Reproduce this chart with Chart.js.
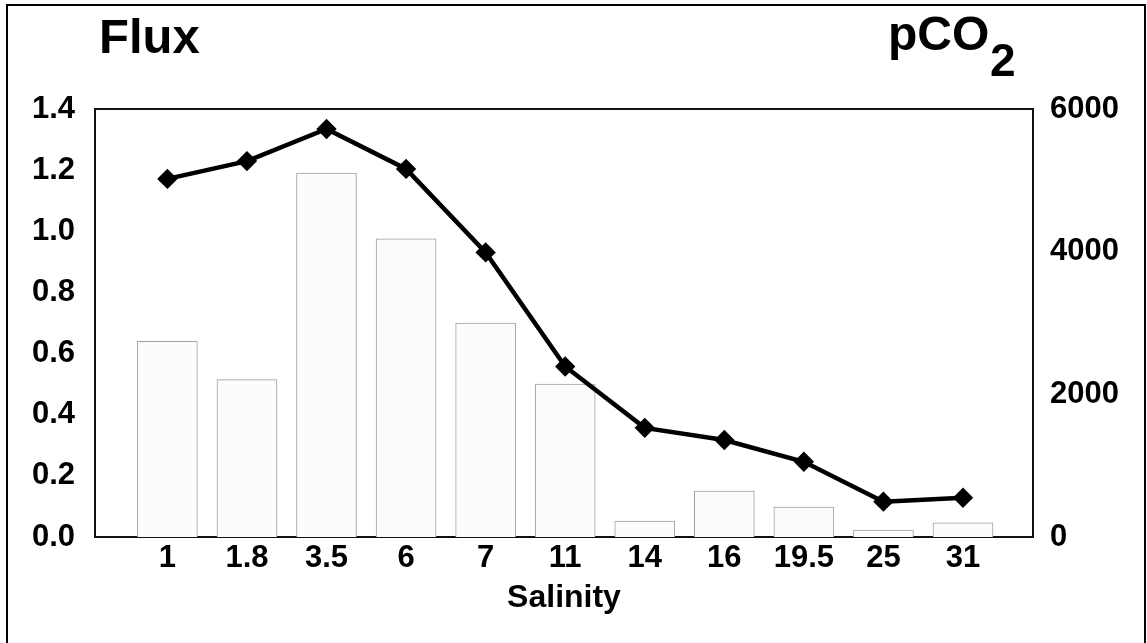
<!DOCTYPE html>
<html>
<head>
<meta charset="utf-8">
<script src="https://cdn.jsdelivr.net/npm/chart.js@4"></script>
<style>
html,body{margin:0;padding:0;background:#fff;}
#wrap{position:relative;width:1147px;height:643px;}
</style>
</head>
<body>
<div id="wrap"><canvas id="c" width="1147" height="643"></canvas></div>
<script>
const salinity = ['1','1.8','3.5','6','7','11','14','16','19.5','25','31'];
const flux = [0.64, 0.515, 1.19, 0.975, 0.70, 0.50, 0.052, 0.15, 0.098, 0.023, 0.046];
const pco2 = [5020, 5270, 5720, 5160, 3990, 2390, 1530, 1360, 1055, 495, 550];
const fluxTicks = [0, 0.2, 0.4, 0.6, 0.8, 1.0, 1.2, 1.4];
const pco2Ticks = [0, 2000, 4000, 6000];

const FONT = '"Liberation Sans", Arial, sans-serif';

const framePlugin = {
  id: 'frame',
  beforeDatasetsDraw(chart) {
    const {ctx, chartArea: a} = chart;
    ctx.save();
    ctx.strokeStyle = '#111';
    ctx.lineWidth = 2;
    ctx.strokeRect(a.left, a.top, a.right - a.left, a.bottom - a.top);
    ctx.restore();
  },
  afterDraw(chart) {
    const {ctx} = chart;
    ctx.save();
    ctx.strokeStyle = '#000';
    ctx.lineWidth = 2;
    ctx.strokeRect(7, 5, 1138, 645);
    ctx.fillStyle = '#000';
    ctx.textBaseline = 'alphabetic';
    ctx.textAlign = 'left';
    ctx.font = 'bold 49px ' + FONT;
    ctx.fillText('Flux', 99, 53);
    ctx.font = 'bold 48px ' + FONT;
    ctx.fillText('pCO', 888, 50);
    ctx.font = 'bold 46px ' + FONT;
    ctx.fillText('2', 990, 76);
    ctx.restore();
  }
};

const data = {
  datasets: [
    {
      type: 'line',
      label: 'pCO2',
      yAxisID: 'yR',
      data: pco2.map((v, i) => ({x: i, y: v})),
      borderColor: '#000',
      backgroundColor: '#000',
      borderWidth: 4.5,
      pointStyle: 'rectRot',
      pointRadius: 7,
      pointHoverRadius: 7,
      tension: 0,
      order: 0
    },
    {
      type: 'bar',
      label: 'Flux',
      yAxisID: 'yL',
      data: flux.map((v, i) => ({x: i, y: v})),
      backgroundColor: '#fcfcfc',
      borderColor: '#a0a0a0',
      borderWidth: 1,
      barThickness: 60,
      order: 1
    }
  ]
};

new Chart(document.getElementById('c'), {
  data,
  plugins: [framePlugin],
  options: {
    responsive: false,
    animation: false,
    events: [],
    layout: {padding: {top: 109, left: 0, right: 0, bottom: 0}},
    plugins: {legend: {display: false}, tooltip: {enabled: false}},
    scales: {
      x: {
        type: 'linear',
        offset: false,
        min: -0.91,
        max: 10.88,
        grid: {display: false, drawTicks: false, offset: false},
        border: {display: false},
        afterBuildTicks(scale) {
          scale.ticks = salinity.map((s, i) => ({value: i}));
        },
        ticks: {
          color: '#000',
          font: {family: FONT, size: 31, weight: 'bold'},
          padding: 3,
          maxRotation: 0,
          autoSkip: false,
          callback: (v) => salinity[v] ?? ''
        },
        title: {
          display: true,
          text: 'Salinity',
          color: '#000',
          font: {family: FONT, size: 32, weight: 'bold'},
          padding: {top: 2, bottom: 26}
        },
        afterFit(scale) { scale.height = 643 - 537; }
      },
      yL: {
        type: 'linear',
        position: 'left',
        min: 0,
        max: 1.4,
        grid: {display: false, drawTicks: false},
        border: {display: false},
        afterBuildTicks(scale) {
          scale.ticks = fluxTicks.map(v => ({value: v}));
        },
        ticks: {
          color: '#000',
          font: {family: FONT, size: 31, weight: 'bold'},
          padding: 20,
          callback: (v) => Number(v).toFixed(1)
        },
        afterFit(scale) { scale.width = 95; }
      },
      yR: {
        type: 'linear',
        position: 'right',
        min: 0,
        max: 6000,
        grid: {display: false, drawTicks: false},
        border: {display: false},
        afterBuildTicks(scale) {
          scale.ticks = pco2Ticks.map(v => ({value: v}));
        },
        ticks: {
          color: '#000',
          font: {family: FONT, size: 31, weight: 'bold'},
          padding: 17,
          callback: (v) => String(v)
        },
        afterFit(scale) { scale.width = 1147 - 1033; }
      }
    }
  }
});
</script>
</body>
</html>
